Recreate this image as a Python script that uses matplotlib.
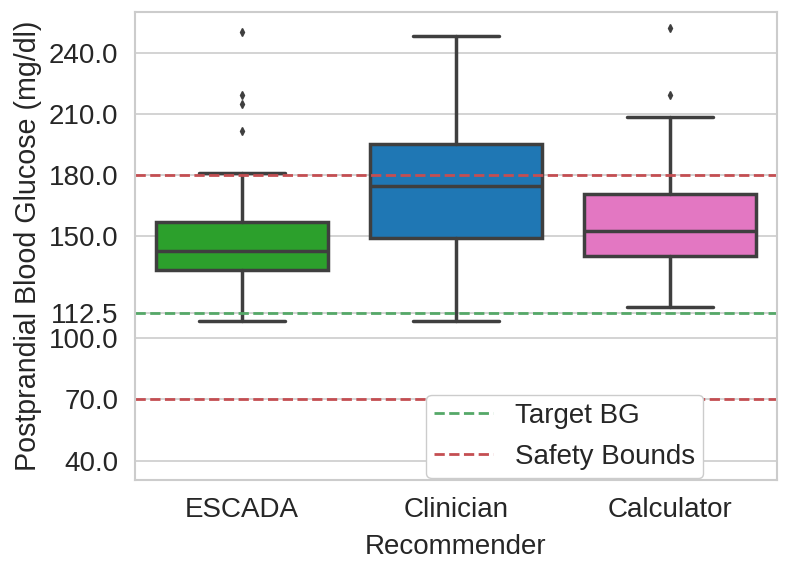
import matplotlib
matplotlib.use("Agg")
import matplotlib.pyplot as plt
import seaborn as sns

sns.set_theme(style="whitegrid")
plt.rcParams['font.family'] = ['Liberation Sans', 'DejaVu Sans']

categories = ["ESCADA", "Clinician", "Calculator"]
colors = ["#2ca02c", "#1f77b4", "#e377c2"]
whislo = [108.5, 108.6, 115.5]
q1 = [133.3, 149.0, 140.2]
med = [142.8, 174.5, 152.4]
q3 = [157.0, 195.4, 170.7]
whishi = [180.9, 248.0, 208.6]
fliers = [[250.1, 219.1, 215.0, 201.4], [], [252.1, 219.1]]
yticks = [40.0, 70.0, 100.0, 112.5, 150.0, 180.0, 210.0, 240.0]
target_bg = 112.5
safety_bounds = [70.0, 180.0]

fig = plt.figure(figsize=(7.89, 5.70), dpi=100)
ax = fig.add_axes([0.171, 0.158, 0.814, 0.821])

stats = []
for i, c in enumerate(categories):
    stats.append(dict(label=c, whislo=whislo[i], q1=q1[i], med=med[i],
                      q3=q3[i], whishi=whishi[i], fliers=fliers[i]))

lc = "#3f3f3f"
w = 0.8
bp = ax.bxp(stats, positions=range(3), widths=w, patch_artist=True,
            boxprops=dict(linewidth=2.5, edgecolor=lc),
            medianprops=dict(color=lc, linewidth=2.5),
            whiskerprops=dict(color=lc, linewidth=2.5),
            capprops=dict(color=lc, linewidth=2.5),
            flierprops=dict(marker="d", markersize=4, markerfacecolor=lc,
                            markeredgecolor=lc))
for patch, col in zip(bp["boxes"], colors):
    patch.set_facecolor(col)
for cap in bp["caps"]:
    x = cap.get_xdata()
    mid = (x[0] + x[1]) / 2
    cap.set_xdata([mid - w / 4, mid + w / 4])

ax.axhline(target_bg, color="#55a868", linestyle="--", linewidth=2, label="Target BG")
ax.axhline(safety_bounds[1], color="#c44e52", linestyle="--", linewidth=2, label="Safety Bounds")
ax.axhline(safety_bounds[0], color="#c44e52", linestyle="--", linewidth=2)

ax.set_xlim(-0.5, 2.5)
ax.set_ylim(30.5, 260)
ax.set_yticks(yticks)
ax.set_yticklabels([f"{v:.1f}" for v in yticks])
ax.set_xticks(range(3))
ax.set_xticklabels(categories)
ax.tick_params(labelsize=20, pad=6)
ax.grid(axis="x", visible=False)
ax.grid(axis="y", color="#cccccc", linewidth=1.2)
for s in ax.spines.values():
    s.set_color("#cccccc")
    s.set_linewidth(1.5)
ax.set_xlabel("Recommender", fontsize=20, labelpad=8)
ax.set_ylabel("Postprandial Blood Glucose (mg/dl)", fontsize=20.6, labelpad=5)
ax.legend(loc="lower right", bbox_to_anchor=(0.885, 0.004), fontsize=20,
          borderaxespad=0.0, borderpad=0.3, labelspacing=0.53,
          handlelength=2.1, handletextpad=0.8,
          facecolor="white", framealpha=1)

fig.savefig("out.png", dpi=100)
